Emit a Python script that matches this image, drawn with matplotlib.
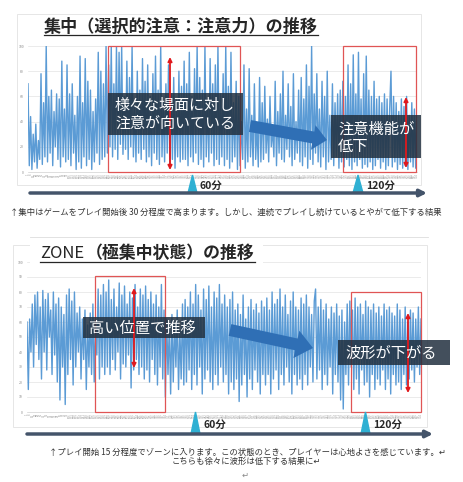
import matplotlib
matplotlib.use('Agg')
import matplotlib.pyplot as plt
import numpy as np
from matplotlib.patches import Rectangle, FancyArrow, Polygon

plt.rcParams['font.family'] = ['Noto Sans CJK JP', 'DejaVu Sans']

# 集中 (0-100)
focus = [
    70, 5, 44, 2, 30, 8, 38, 3, 25, 10, 78, 6, 55, 12, 100, 8, 60, 15, 65, 5, 48, 20, 62, 10, 58, 4, 88, 12, 50, 8,
    85, 10, 62, 5, 70, 15, 45, 2, 60, 8, 92, 3, 55, 12, 90, 5, 72, 10, 65, 2, 48, 8, 58, 15, 95, 6, 80, 10, 70, 12,
    100, 15, 85, 20, 100, 12, 70, 18, 100, 10, 95, 22, 100, 14, 60, 18, 88, 10, 75, 20, 100, 12, 55, 8, 80, 15, 65, 10, 90, 18,
    72, 8, 85, 12, 60, 5, 78, 15, 92, 10, 65, 6, 100, 12, 55, 8, 70, 15, 85, 5, 62, 10, 75, 3, 58, 12, 80, 8, 68, 10,
    88, 10, 70, 5, 95, 12, 60, 8, 82, 15, 100, 6, 75, 10, 65, 4, 100, 12, 58, 8, 90, 15, 70, 5, 85, 10, 100, 6, 62, 12,
    78, 5, 100, 10, 68, 3, 95, 8, 55, 12, 72, 2, 60, 5, 40, 10, 85, 3, 50, 8, 82, 12, 45, 5, 70, 10, 38, 4, 75, 8,
    55, 10, 68, 15, 42, 8, 60, 20, 35, 12, 72, 5, 48, 15, 62, 10, 80, 8, 45, 18, 70, 12, 52, 5, 78, 10, 40, 15, 65, 8,
    75, 5, 58, 12, 85, 3, 68, 10, 100, 6, 62, 15, 78, 8, 50, 4, 72, 12, 60, 2, 80, 8, 45, 10, 70, 5, 55, 12, 62, 3,
    65, 8, 72, 4, 60, 10, 85, 5, 70, 2, 93, 8, 62, 5, 95, 10, 58, 3, 78, 6, 92, 4, 65, 8, 60, 2, 72, 5, 58, 10,
    60, 3, 55, 8, 62, 2, 58, 5, 50, 80, 4, 60, 8, 55, 2, 48, 6, 58, 3, 52, 5, 60, 2, 45, 8, 55, 4, 50, 3, 55,
]

# ZONE (0-100)
zone = [
    60, 15, 62, 40, 72, 30, 78, 45, 80, 35, 70, 22, 81, 40, 75, 28, 79, 50, 68, 25, 80, 38, 72, 20, 76, 8, 70, 30, 65, 5,
    78, 25, 82, 35, 74, 18, 80, 30, 66, 40, 70, 22, 62, 35, 68, 15, 58, 30, 66, 25, 72, 20, 60, 38, 82, 22, 78, 30, 85, 25,
    80, 30, 88, 25, 75, 35, 82, 28, 70, 40, 86, 22, 78, 32, 84, 30, 72, 38, 80, 16, 76, 28, 85, 35, 70, 25, 82, 30, 78, 22,
    84, 28, 75, 20, 80, 35, 72, 25, 78, 18, 70, 30, 85, 22, 68, 10, 62, 25, 58, 12, 65, 20, 60, 30, 68, 15, 55, 22, 72, 18,
    75, 20, 70, 28, 80, 15, 72, 25, 85, 18, 78, 30, 68, 12, 82, 22, 75, 28, 84, 20, 70, 15, 80, 25, 76, 18, 85, 30, 72, 20,
    78, 25, 70, 12, 75, 20, 80, 15, 68, 22, 72, 7, 65, 18, 78, 25, 62, 10, 70, 22, 75, 15, 68, 28, 72, 20, 66, 12, 74, 25,
    70, 18, 76, 25, 68, 12, 80, 22, 72, 28, 75, 15, 82, 25, 70, 18, 78, 30, 65, 20, 74, 12, 80, 25, 70, 18, 68, 22, 76, 15,
    72, 25, 78, 18, 70, 30, 65, 20, 74, 82, 22, 70, 28, 75, 15, 68, 25, 72, 18, 62, 30, 70, 12, 66, 25, 72, 20, 64, 8, 68,
    2, 60, 25, 72, 18, 74, 30, 68, 15, 76, 22, 70, 12, 72, 28, 65, 18, 74, 20, 70, 10, 68, 25, 72, 15, 66, 22, 70, 18, 64,
    28, 72, 15, 68, 22, 70, 12, 66, 25, 64, 18, 72, 20, 68, 15, 62, 25, 70, 18, 60, 22, 68, 28, 66, 20, 62, 30, 70, 25, 62,
]

top_yticks = [0, 20, 40, 60, 80, 100]
bottom_yticks = [0, 10, 20, 30, 40, 50, 60, 70, 80, 90, 100]
tick_labels = [str(1 + 7 * i) for i in range(140)]

top_title = '集中（選択的注意：注意力）の推移'
bottom_title = '（極集中状態）の推移'
top_caption = '↑集中はゲームをプレイ開始後 30 分程度で高まります。しかし、連続でプレイし続けているとやがて低下する結果'
bottom_caption1 = '↑プレイ開始 15 分程度でゾーンに入ります。この状態のとき、プレイヤーは心地よさを感じています。↵'
bottom_caption2 = 'こちらも徐々に波形は低下する結果に↵'

W, H = 464, 482
fig = plt.figure(figsize=(W / 100, H / 100), dpi=100)


def rect_of(l, t, r, b):
    return [l / W, 1 - b / H, (r - l) / W, (b - t) / H]


def draw_chart(values, box, yticks):
    ax = fig.add_axes(rect_of(*box))
    x = np.arange(len(values))
    ax.plot(x, values, color='#5b9bd5', lw=1.0)
    ax.set_xlim(0, len(values) - 1)
    ax.set_ylim(0, 100)
    ax.set_yticks(yticks)
    ax.set_xticks(np.linspace(0, len(values) - 1, len(tick_labels)))
    ax.set_xticklabels(tick_labels, rotation=90, fontsize=2, color='#999999')
    ax.tick_params(axis='y', labelsize=2.5, labelcolor='#888888', length=0, pad=3)
    ax.tick_params(axis='x', length=0, pad=1)
    ax.grid(axis='y', color='#e3e3e3', lw=0.5)
    ax.set_axisbelow(True)
    for s in ['top', 'right', 'left']:
        ax.spines[s].set_visible(False)
    ax.spines['bottom'].set_color('#d0d0d0')
    ax.spines['bottom'].set_linewidth(0.5)
    return ax


draw_chart(focus, (28, 46, 417, 172), top_yticks)
draw_chart(zone, (27, 262, 421, 412), bottom_yticks)

# overlay in pixel coordinates for the decorations
ov = fig.add_axes([0, 0, 1, 1], zorder=10)
ov.set_xlim(0, W)
ov.set_ylim(H, 0)
ov.axis('off')
ov.patch.set_alpha(0)

# chart area frames
ov.add_patch(Rectangle((17, 14), 404, 171, fill=False, ec='#e2e2e2', lw=0.6))
ov.plot([30, 428], [237, 237], color='#dddddd', lw=0.6)
ov.add_patch(Rectangle((13, 245), 414, 182, fill=False, ec='#e2e2e2', lw=0.6))
ov.add_patch(Rectangle((30, 243), 233, 20.5, fc='white', ec='none'))

# titles
ov.text(44, 27, top_title, fontsize=12.3, fontweight='bold', va='center', ha='left', color='#262626')
ov.plot([44, 318], [35, 35], color='#262626', lw=0.9)
ov.text(40, 254, 'ZONE', fontsize=12, va='center', ha='left', color='#262626')
ov.text(86, 253, bottom_title, fontsize=12.2, fontweight='bold', va='center', ha='left', color='#262626')
ov.plot([40, 255], [262, 262], color='#262626', lw=0.9)

# red boxes
red = '#e05555'
for l, t, r, b in [(108, 46, 240, 172), (343, 46, 416, 172), (95, 276, 165, 412), (351, 292, 421, 412)]:
    ov.add_patch(Rectangle((l, t), r - l, b - t, fill=False, ec=red, lw=0.9))

# red double arrows
for x, y0, y1 in [(170, 57, 170), (406, 97, 168), (134, 288, 368), (408, 313, 393)]:
    ov.annotate('', xy=(x, y0), xytext=(x, y1),
                arrowprops=dict(arrowstyle='<|-|>', color='#e0191d', lw=1.3,
                                mutation_scale=6, shrinkA=0, shrinkB=0))

# blue block arrows
ov.add_patch(FancyArrow(250, 126, 77, 14, width=12, head_width=25, head_length=14,
                        length_includes_head=True, color='#2f6fb5', ec='none'))
ov.add_patch(FancyArrow(230, 330, 83, 18, width=12, head_width=28, head_length=17,
                        length_includes_head=True, color='#2f6fb5', ec='none'))

# dark label boxes
dark = '#22303f'
for l, t, r, b in [(108, 93, 243, 135), (331, 115, 421, 158), (83, 317, 205, 338), (338, 340, 450, 365)]:
    ov.add_patch(Rectangle((l, t), r - l, b - t, fc=dark, alpha=0.85, ec='none'))
ov.text(115, 106, '様々な場面に対し', color='white', fontsize=10.8, va='center')
ov.text(115, 124, '注意が向いている', color='white', fontsize=10.8, va='center')
ov.text(338, 129, '注意機能が', color='white', fontsize=11, va='center')
ov.text(338, 146, '低下', color='white', fontsize=11, va='center')
ov.text(89, 328, '高い位置で推移', color='white', fontsize=11, va='center')
ov.text(345, 353, '波形が下がる', color='white', fontsize=11, va='center')

# timelines
for x0, x1, y in [(30, 427, 193), (27, 433, 434)]:
    ov.annotate('', xy=(x1, y), xytext=(x0, y),
                arrowprops=dict(arrowstyle='-|>', color='#44546a', lw=2.5,
                                mutation_scale=10, shrinkA=0, shrinkB=0))
for l, r, top, base in [(188, 197, 175, 193), (353, 363, 175, 193), (191, 200, 412, 434), (361, 370, 412, 434)]:
    ov.add_patch(Polygon([(l, base), (r, base), ((l + r) / 2, top)], closed=True, color='#2fb0d3'))
ov.text(200, 186, '60分', fontsize=7.5, fontweight='bold', va='center', color='#262626')
ov.text(366, 186, '120分', fontsize=7.5, fontweight='bold', va='center', color='#262626')
ov.text(204, 425, '60分', fontsize=7.5, fontweight='bold', va='center', color='#262626')
ov.text(373, 425, '120分', fontsize=7.5, fontweight='bold', va='center', color='#262626')

# captions
ov.text(10, 212, top_caption, fontsize=6.0, va='center', ha='left', color='#333333')
ov.text(247, 452, bottom_caption1, fontsize=6, va='center', ha='center', color='#333333')
ov.text(246, 461, bottom_caption2, fontsize=6, va='center', ha='center', color='#333333')
ov.text(245, 475, '↵', fontsize=6, va='center', ha='center', color='#888888')

fig.savefig('out.png', dpi=100)
